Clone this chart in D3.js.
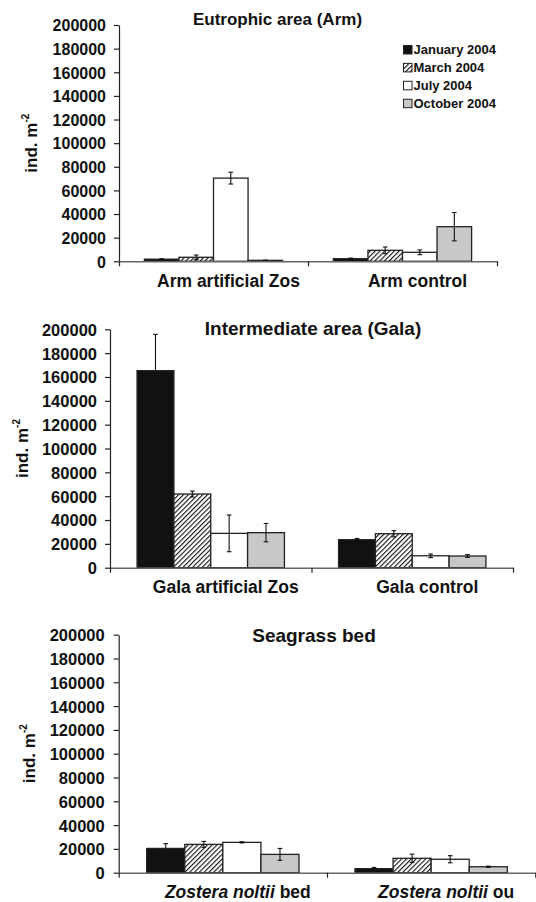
<!DOCTYPE html>
<html>
<head>
<meta charset="utf-8" />
<title>Density per month and site</title>
<script src="https://d3js.org/d3.v7.min.js"></script>
<style>
    body { margin: 0; background: #fff; }
    svg text { font-family: "Liberation Sans", Arial, sans-serif; font-weight: bold; fill: #111; }
</style>
</head>
<body>
<svg id="chart" width="536" height="902"></svg>
<script>

// data
var seriesNames = ["January 2004", "March 2004", "July 2004", "October 2004"];
var yTicks = [0, 20000, 40000, 60000, 80000, 100000, 120000, 140000, 160000, 180000, 200000];

var armCategories = ["Arm artificial Zos", "Arm control"];
var armMeans  = [[1800, 3400, 70400, 800], [2200, 9300, 7600, 29300]];
var armErrors = [[400, 1900, 5000, 200], [500, 2800, 2000, 12000]];

var galaCategories = ["Gala artificial Zos", "Gala control"];
var galaMeans  = [[165300, 61800, 28800, 29400], [23500, 28500, 10000, 9800]];
var galaErrors = [[30500, 2500, 15400, 7700], [1000, 2600, 1500, 1200]];

var seagrassCategories = ["Zostera noltii bed", "Zostera noltii ou"];
var seagrassMeans  = [[20400, 23800, 25500, 15400], [3400, 12100, 11300, 5000]];
var seagrassErrors = [[4000, 2500, 500, 5000], [1000, 3500, 3000, 500]];

var fills = ["#111", "url(#hatch)", "#fff", "#c8c8c8"];

var svg = d3.select("#chart");

// hatch pattern for march
var pat = svg.append("defs").append("pattern")
    .attr("id", "hatch")
    .attr("patternUnits", "userSpaceOnUse")
    .attr("width", 3.4).attr("height", 3.4)
    .attr("patternTransform", "rotate(45)");
pat.append("rect").attr("width", 3.4).attr("height", 3.4).attr("fill", "#fff");
pat.append("line").attr("x1", 0).attr("y1", 0).attr("x2", 0).attr("y2", 3.4)
    .attr("stroke", "#111").attr("stroke-width", 2.2);

function drawPanel(cfg) {
    var g = svg.append("g");

    var y = d3.scaleLinear().domain([0, 200000]).range([cfg.yBot, cfg.yTop]);
    var x = d3.scaleBand().domain(cfg.categories).range([cfg.x0, cfg.x1]).padding(0);
    var xs = d3.scaleBand().domain(seriesNames).range([0, x.bandwidth()])
        .paddingInner(0).paddingOuter(0.735);

    // bars
    cfg.categories.forEach(function(cat, ci) {
        var grp = g.append("g").attr("transform", "translate(" + x(cat) + ",0)");
        grp.selectAll("rect")
            .data(cfg.means[ci])
            .enter().append("rect")
            .attr("x", function(d, i) { return xs(seriesNames[i]); })
            .attr("y", function(d) { return y(d); })
            .attr("width", xs.bandwidth())
            .attr("height", function(d) { return y(0) - y(d); })
            .attr("fill", function(d, i) { return fills[i]; })
            .attr("stroke", "#222")
            .attr("stroke-width", 1.3);

        // error bars
        var eb = grp.selectAll(".err")
            .data(cfg.means[ci])
            .enter().append("g").attr("class", "err")
            .attr("transform", function(d, i) { return "translate(" + (xs(seriesNames[i]) + xs.bandwidth() / 2) + ",0)"; });
        eb.append("line")
            .attr("y1", function(d, i) { return y(d + cfg.errors[ci][i]); })
            .attr("y2", function(d, i) { return y(Math.max(0, d - cfg.errors[ci][i])); })
            .attr("stroke", "#111")
            .attr("stroke-width", 1.1);
        [1, -1].forEach(function(s) {
            eb.append("line")
                .attr("x1", -2.3).attr("x2", 2.3)
                .attr("y1", function(d, i) { return y(Math.max(0, d + s * cfg.errors[ci][i])); })
                .attr("y2", function(d, i) { return y(Math.max(0, d + s * cfg.errors[ci][i])); })
                .attr("stroke", "#111").attr("stroke-width", 1.1);
        });
    });

    // y axis
    var yAxis = d3.axisLeft(y).tickValues(yTicks).tickFormat(d3.format("d"))
        .tickSize(5).tickSizeOuter(0).tickPadding(cfg.tickPad);
    var ya = g.append("g").attr("transform", "translate(" + cfg.x0 + ",0)").call(yAxis);
    ya.selectAll("text").style("font-size", cfg.tickSize + "px").attr("dy", "0.36em");
    ya.selectAll("line, path").attr("stroke", "#222").attr("stroke-width", 1.2);

    // x axis (ticks at category boundaries)
    var xb = d3.scaleLinear().domain([0, cfg.categories.length]).range([cfg.x0, cfg.x1]);
    var xa = g.append("g").attr("transform", "translate(0," + cfg.yBot + ")")
        .call(d3.axisBottom(xb).tickValues(d3.range(cfg.categories.length + 1))
            .tickFormat("").tickSize(5).tickSizeOuter(0));
    xa.select("path").attr("stroke", "#666").attr("stroke-width", 1.6);
    xa.selectAll("line").attr("stroke", "#222").attr("stroke-width", 1.2);

    // category labels
    cfg.categories.forEach(function(cat) {
        var t = g.append("text")
            .attr("x", x(cat) + x.bandwidth() / 2 + cfg.labelShift)
            .attr("y", cfg.labelY)
            .attr("text-anchor", "middle")
            .style("font-size", "17.5px");
        if (cat.indexOf("Zostera noltii") === 0) {
            t.append("tspan").style("font-style", "italic").text("Zostera noltii");
            t.append("tspan").text(cat.slice(14));
        } else {
            t.text(cat);
        }
    });

    // title
    g.append("text")
        .attr("x", cfg.titleX).attr("y", cfg.titleY)
        .attr("text-anchor", "middle")
        .style("font-size", cfg.titleSize + "px")
        .text(cfg.title);

    // y title
    var yt = g.append("text")
        .attr("transform", "translate(" + cfg.yTitleX + "," + ((cfg.yTop + cfg.yBot) / 2) + ") rotate(-90)")
        .attr("text-anchor", "middle")
        .style("font-size", "17px");
    yt.append("tspan").text("ind. m");
    yt.append("tspan").attr("dy", "-0.8em").style("font-size", "10px").text("-2");
}

drawPanel({
    categories: armCategories, means: armMeans, errors: armErrors,
    title: "Eutrophic area (Arm)", titleX: 277.5, titleY: 25, titleSize: 17,
    x0: 119, x1: 497, yTop: 25, yBot: 261.3,
    tickSize: 16, tickPad: 8, labelY: 287.3, labelShift: 15, yTitleX: 36.5
});

drawPanel({
    categories: galaCategories, means: galaMeans, errors: galaErrors,
    title: "Intermediate area (Gala)", titleX: 313, titleY: 335, titleSize: 19,
    x0: 110, x1: 513, yTop: 329.3, yBot: 567.7,
    tickSize: 16.5, tickPad: 8, labelY: 593.3, labelShift: 15, yTitleX: 28.3
});

drawPanel({
    categories: seagrassCategories, means: seagrassMeans, errors: seagrassErrors,
    title: "Seagrass bed", titleX: 314, titleY: 641.7, titleSize: 19,
    x0: 118.7, x1: 535.3, yTop: 634.7, yBot: 872.7,
    tickSize: 16.5, tickPad: 9, labelY: 898.3, labelShift: 15, yTitleX: 35
});

// legend (top panel)
var legend = svg.append("g").attr("transform", "translate(403.5,45.5)");
var rows = legend.selectAll("g")
    .data(seriesNames)
    .enter().append("g")
    .attr("transform", function(d, i) { return "translate(0," + (i * 17.9) + ")"; });
rows.append("rect")
    .attr("width", 8.5).attr("height", 8.5)
    .attr("fill", function(d, i) { return fills[i]; })
    .attr("stroke", "#222").attr("stroke-width", 1);
rows.append("text")
    .attr("x", 10).attr("y", 8.7)
    .style("font-size", "13px")
    .text(function(d) { return d; });

</script>
</body>
</html>
